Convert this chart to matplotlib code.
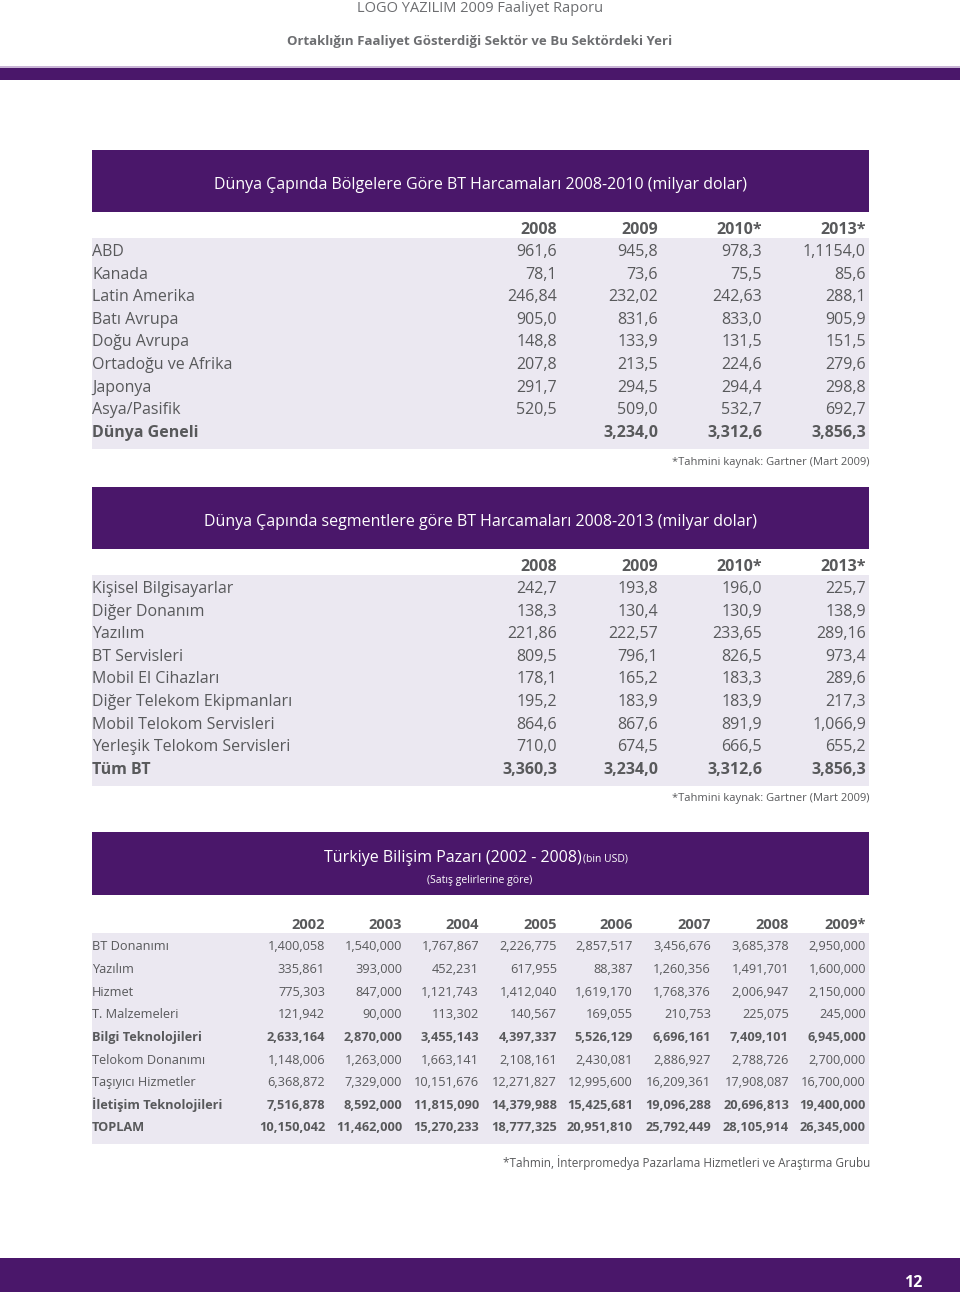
# coding:utf-8
# LOGO YAZILIM 2009 faaliyet raporu - sayfa 12, BT harcama tablolari

import matplotlib
matplotlib.use('Agg')
from matplotlib import pyplot as plt
from matplotlib.patches import Rectangle

plt.rcParams['font.family'] = ['Open Sans', 'DejaVu Sans']

# tablo 1: bolgelere gore
t1_title = u'Dünya Çapında Bölgelere Göre BT Harcamaları 2008-2010 (milyar dolar)'
t1_years = ['2008', '2009', '2010*', '2013*']
t1_rows = [u'ABD', u'Kanada', u'Latin Amerika', u'Batı Avrupa', u'Doğu Avrupa',
           u'Ortadoğu ve Afrika', u'Japonya', u'Asya/Pasifik', u'Dünya Geneli']
t1_values = [
    ['961,6', '945,8', '978,3', '1,1154,0'],
    ['78,1', '73,6', '75,5', '85,6'],
    ['246,84', '232,02', '242,63', '288,1'],
    ['905,0', '831,6', '833,0', '905,9'],
    ['148,8', '133,9', '131,5', '151,5'],
    ['207,8', '213,5', '224,6', '279,6'],
    ['291,7', '294,5', '294,4', '298,8'],
    ['520,5', '509,0', '532,7', '692,7'],
    ['', '3,234,0', '3,312,6', '3,856,3'],
]
t1_bold = [u'Dünya Geneli']

# tablo 2: segmentlere gore
t2_title = u'Dünya Çapında segmentlere göre BT Harcamaları 2008-2013 (milyar dolar)'
t2_years = ['2008', '2009', '2010*', '2013*']
t2_rows = [u'Kişisel Bilgisayarlar', u'Diğer Donanım', u'Yazılım', u'BT Servisleri',
           u'Mobil El Cihazları', u'Diğer Telekom Ekipmanları', u'Mobil Telokom Servisleri',
           u'Yerleşik Telokom Servisleri', u'Tüm BT']
t2_values = [
    ['242,7', '193,8', '196,0', '225,7'],
    ['138,3', '130,4', '130,9', '138,9'],
    ['221,86', '222,57', '233,65', '289,16'],
    ['809,5', '796,1', '826,5', '973,4'],
    ['178,1', '165,2', '183,3', '289,6'],
    ['195,2', '183,9', '183,9', '217,3'],
    ['864,6', '867,6', '891,9', '1,066,9'],
    ['710,0', '674,5', '666,5', '655,2'],
    ['3,360,3', '3,234,0', '3,312,6', '3,856,3'],
]
t2_bold = [u'Tüm BT']

# tablo 3: Turkiye bilisim pazari
t3_years = ['2002', '2003', '2004', '2005', '2006', '2007', '2008', '2009*']
t3_rows = [u'BT Donanımı', u'Yazılım', u'Hizmet', u'T. Malzemeleri', u'Bilgi Teknolojileri',
           u'Telokom Donanımı', u'Taşıyıcı Hizmetler', u'İletişim Teknolojileri', u'TOPLAM']
t3_values = [
    ['1,400,058', '1,540,000', '1,767,867', '2,226,775', '2,857,517', '3,456,676', '3,685,378', '2,950,000'],
    ['335,861', '393,000', '452,231', '617,955', '88,387', '1,260,356', '1,491,701', '1,600,000'],
    ['775,303', '847,000', '1,121,743', '1,412,040', '1,619,170', '1,768,376', '2,006,947', '2,150,000'],
    ['121,942', '90,000', '113,302', '140,567', '169,055', '210,753', '225,075', '245,000'],
    ['2,633,164', '2,870,000', '3,455,143', '4,397,337', '5,526,129', '6,696,161', '7,409,101', '6,945,000'],
    ['1,148,006', '1,263,000', '1,663,141', '2,108,161', '2,430,081', '2,886,927', '2,788,726', '2,700,000'],
    ['6,368,872', '7,329,000', '10,151,676', '12,271,827', '12,995,600', '16,209,361', '17,908,087', '16,700,000'],
    ['7,516,878', '8,592,000', '11,815,090', '14,379,988', '15,425,681', '19,096,288', '20,696,813', '19,400,000'],
    ['10,150,042', '11,462,000', '15,270,233', '18,777,325', '20,951,810', '25,792,449', '28,105,914', '26,345,000'],
]
t3_bold = [u'Bilgi Teknolojileri', u'İletişim Teknolojileri', u'TOPLAM']

purple = '#4a176a'
band = '#ebe8f1'
grey = '#58595b'

fig = plt.figure(figsize=(9.6, 12.92), dpi=100)
ax = fig.add_axes([0, 0, 1, 1])
ax.set_xlim(0, 960)
ax.set_ylim(1292, 0)
ax.axis('off')

# sayfa basligi
ax.text(480, 9, u'LOGO YAZILIM 2009 Faaliyet Raporu', ha='center', va='center',
        fontsize=10.5, color='#6d6e71')
ax.text(480, 41, u'Ortaklığın Faaliyet Gösterdiği Sektör ve Bu Sektördeki Yeri',
        ha='center', va='center', fontsize=9.5, fontweight='bold', color='#6d6e71')
ax.add_patch(Rectangle((0, 66), 960, 1.5, color='#c9b5d6', lw=0))
ax.add_patch(Rectangle((0, 68), 960, 12, color=purple, lw=0))

# alt bant ve sayfa no
ax.add_patch(Rectangle((0, 1258), 960, 34, color=purple, lw=0))
ax.text(913, 1283, '12', ha='center', va='center', fontsize=11.5,
        fontweight='bold', color='white')


def draw_table(top, rows, values, years, bold_rows, col_right, fsize, hsize, row_h):
    # baslik satiri (beyaz zemin)
    hy = top + 18
    for yr, xr in zip(years, col_right):
        ax.text(xr, hy, yr, ha='right', va='center', fontsize=hsize,
                fontweight='bold', color=grey)
    # gri zemin
    g0 = top + 26
    ax.add_patch(Rectangle((92, g0), 777, row_h * len(rows) + 8, color=band, lw=0))
    for i, name in enumerate(rows):
        y = g0 + 14 + i * row_h  # +2: yazi merkezi biraz yukarida kaliyor
        w = 'bold' if name in bold_rows else 'normal'
        ax.text(92, y, name, ha='left', va='center', fontsize=fsize,
                fontweight=w, color=grey)
        for v, xr in zip(values[i], col_right):
            ax.text(xr, y, v, ha='right', va='center', fontsize=fsize,
                    fontweight=w, color=grey)


def title_box(top, text):
    ax.add_patch(Rectangle((92, top), 777, 62, color=purple, lw=0))
    ax.text(480, top + 35, text, ha='center', va='center', fontsize=11.5, color='white')


# tablo 1
title_box(150, t1_title)
draw_table(212, t1_rows, t1_values, t1_years, t1_bold,
           [557, 658, 762, 866], 11.5, 11.5, 22.6)
ax.text(869, 462, u'*Tahmini kaynak: Gartner (Mart 2009)', ha='right', va='center',
        fontsize=8, color=grey)

# tablo 2
title_box(487, t2_title)
draw_table(549, t2_rows, t2_values, t2_years, t2_bold,
           [557, 658, 762, 866], 11.5, 11.5, 22.6)
ax.text(869, 798, u'*Tahmini kaynak: Gartner (Mart 2009)', ha='right', va='center',
        fontsize=8, color=grey)

# tablo 3
ax.add_patch(Rectangle((92, 832), 777, 63, color=purple, lw=0))
ax.text(582, 858, u'Türkiye Bilişim Pazarı (2002 - 2008)', ha='right', va='center',
        fontsize=11.5, color='white')
ax.text(583, 859, u'(bin USD)', ha='left', va='center', fontsize=7.5, color='white')
ax.text(480, 881, u'(Satış gelirlerine göre)', ha='center', va='center',
        fontsize=7.5, color='white')
draw_table(907, t3_rows, t3_values, t3_years, t3_bold,
           [325, 402, 479, 557, 633, 711, 789, 866], 9.2, 10.5, 22.6)
ax.text(870, 1163, u'*Tahmin, İnterpromedya Pazarlama Hizmetleri ve Araştırma Grubu',
        ha='right', va='center', fontsize=8.5, color=grey)

plt.savefig('out.png', dpi=100)
